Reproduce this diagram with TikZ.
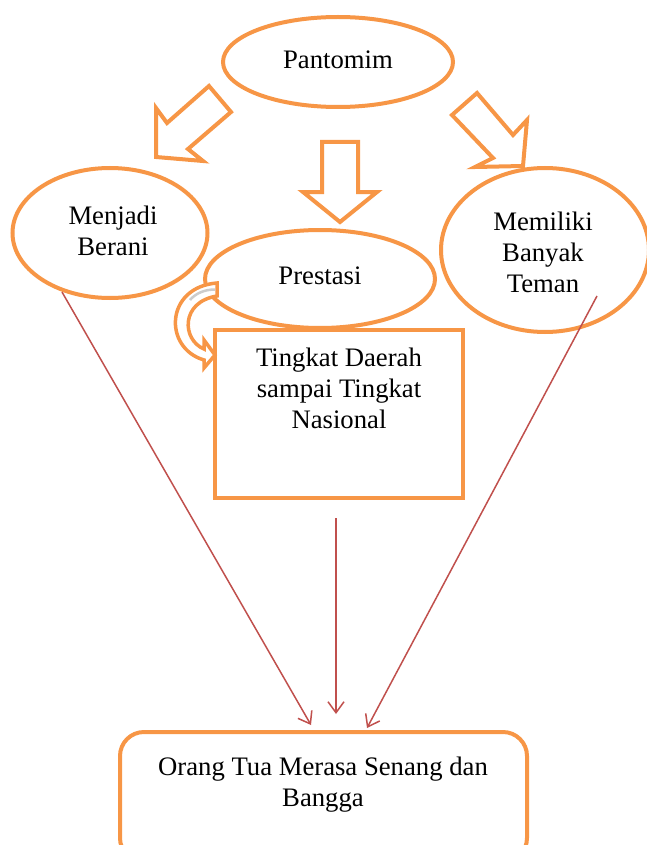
\documentclass[tikz,border=0pt]{standalone}
\usepackage{fontspec}
\setmainfont{Liberation Serif}
\usetikzlibrary{shapes.geometric,arrows.meta}
\definecolor{oorange}{HTML}{F79646}
\definecolor{ored}{HTML}{C0504D}
\tikzset{
  oval/.style={ellipse, draw=oorange, line width=4pt, fill=white, inner sep=0pt, align=center},
  blockarrow/.style={draw=oorange, line width=4pt, fill=white, line join=miter},
  lbl/.style={align=center, font=\fontsize{26.7}{31}\selectfont},
  redline/.style={draw=ored, line width=1.5pt, -{Straight Barb[length=11pt,width=16pt,line width=1.5pt]}}
}
\begin{document}
\begin{tikzpicture}[x=1pt,y=-1pt]
\useasboundingbox (0,0) rectangle (646,845);
% ellipses
\node[oval, minimum width=230pt, minimum height=90pt] (pant) at (338,62) {};
\node[lbl] (pantT) at (338,60) {Pantomim};
\node[oval, minimum width=195pt, minimum height=130pt] (berani) at (110,233) {};
\node[lbl] (beraniT) at (113,231) {Menjadi\\Berani};
\node[oval, minimum width=208pt, minimum height=164pt] (teman) at (545,250) {};
\node[lbl] (temanT) at (543,252) {Memiliki\\Banyak\\Teman};
% rectangle
\node[draw=oorange, line width=4pt, fill=white, minimum width=248pt, minimum height=168pt, inner sep=0pt] (tingkat) at (339,414) {};
\node[lbl] (tingkatT) at (339,388) {Tingkat Daerah\\sampai Tingkat\\Nasional};
\node[oval, minimum width=230pt, minimum height=98pt] (prestasi) at (320,279) {};
\node[lbl] (prestasiT) at (320,276) {Prestasi};
% bottom box
\node[draw=oorange, line width=4pt, rounded corners=24pt, minimum width=407pt, minimum height=130pt, inner sep=0pt] (orang) at (323.5,797) {};
\node[lbl] (orangT) at (323,785) {Orang Tua Merasa Senang dan\\Bangga};
% block arrows
\draw[blockarrow] (209,86) -- (231,112) -- (188,149) -- (203,161) -- (156,157) -- (156,108) -- (167,123) -- cycle;
\draw[blockarrow] (322,142) -- (358,142) -- (358,192) -- (377,192) -- (340,222) -- (303,192) -- (322,192) -- cycle;
\draw[blockarrow] (477,93) -- (513,135) -- (527,120) -- (523,166) -- (475,167) -- (493,158) -- (452,115) -- cycle;
% curved arrow
\draw[draw=oorange, line width=3.5pt, fill=white, line join=miter]
  (217,283) .. controls (165,287) and (163,348) .. (204,360) -- (204,368) -- (215,355) -- (204,340) -- (204,349)
  .. controls (182,340) and (180,302) .. (217,296) -- cycle;
\draw[gray!40, line width=2.5pt] (215,289.5) .. controls (205,289.5) and (196,293) .. (190,300);
% red connectors
\coordinate (s1) at (62,292);
\coordinate (e1) at (311,725);
\coordinate (s2) at (336,518);
\coordinate (e2) at (336,714);
\coordinate (s3) at (597,296);
\coordinate (e3) at (367,728);
\draw[redline] (s1) -- (e1);
\draw[redline] (s2) -- (e2);
\draw[redline] (s3) -- (e3);
\end{tikzpicture}
\end{document}
